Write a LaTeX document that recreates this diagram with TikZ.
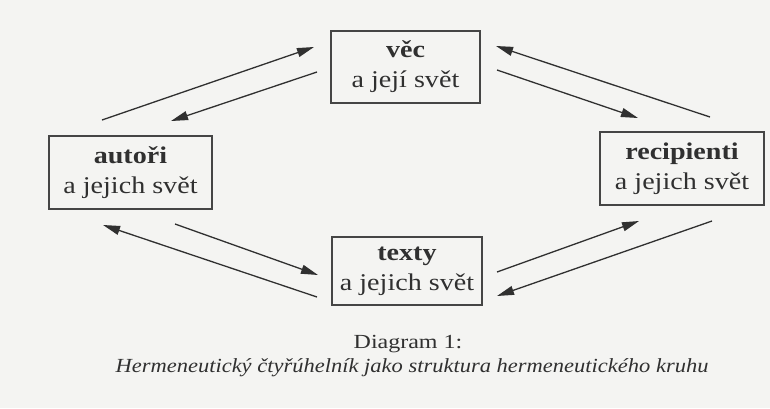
\documentclass[tikz,border=0pt]{standalone}
\usepackage{fontspec}
\setmainfont{Liberation Serif}[FakeStretch=1.17]
\newfontfamily\capfont{Liberation Serif}[FakeStretch=1.2]
\newfontfamily\capitfont{Liberation Serif Italic}[FakeStretch=1.125]
\usetikzlibrary{arrows.meta}
\definecolor{ink}{HTML}{303030}
\definecolor{paper}{HTML}{F4F4F2}
\tikzset{
  box/.style={draw=ink!90, line width=1.4pt, text=ink, align=center, inner sep=0pt,
    font=\fontsize{24}{30}\selectfont},
  arr/.style={draw=ink, line width=1.3pt, -{Triangle[length=17pt,width=9pt]}},
}
\begin{document}
\begin{tikzpicture}[x=1pt,y=-1pt]
\fill[paper] (0,0) rectangle (770,408);
\useasboundingbox (0,0) rectangle (770,408);
\node[box, minimum width=149pt, minimum height=72pt] (vec) at (405.5,67) {\textbf{věc}\\a její svět};
\node[box, minimum width=163pt, minimum height=73pt] (aut) at (130.5,172.5) {\textbf{autoři}\\a jejich svět};
\node[box, minimum width=164pt, minimum height=73pt] (rec) at (682,168.5) {\textbf{recipienti}\\a jejich svět};
\node[box, minimum width=150pt, minimum height=68pt] (tex) at (407,271) {\textbf{texty}\\a jejich svět};
% arrow endpoints
\coordinate (a1s) at (102,120); \coordinate (a1e) at (314,47);
\coordinate (a2s) at (317,72);  \coordinate (a2e) at (171,121);
\coordinate (b1s) at (710,117); \coordinate (b1e) at (496,46);
\coordinate (b2s) at (497,70);  \coordinate (b2e) at (638,118);
\coordinate (c1s) at (175,224); \coordinate (c1e) at (318,275);
\coordinate (c2s) at (317,297); \coordinate (c2e) at (103,225);
\coordinate (d1s) at (497,272); \coordinate (d1e) at (639,221);
\coordinate (d2s) at (712,221); \coordinate (d2e) at (497,296);
\draw[arr] (a1s) -- (a1e);
\draw[arr] (a2s) -- (a2e);
\draw[arr] (b1s) -- (b1e);
\draw[arr] (b2s) -- (b2e);
\draw[arr] (c1s) -- (c1e);
\draw[arr] (c2s) -- (c2e);
\draw[arr] (d1s) -- (d1e);
\draw[arr] (d2s) -- (d2e);
\node[text=ink, font=\capfont\fontsize{20}{24}\selectfont, anchor=base] (cap1) at (408,348) {Diagram 1:};
\node[text=ink, font=\capitfont\fontsize{20}{24}\selectfont, anchor=base] (cap2) at (412,372) {Hermeneutický čtyřúhelník jako struktura hermeneutického kruhu};
\end{tikzpicture}
\end{document}
